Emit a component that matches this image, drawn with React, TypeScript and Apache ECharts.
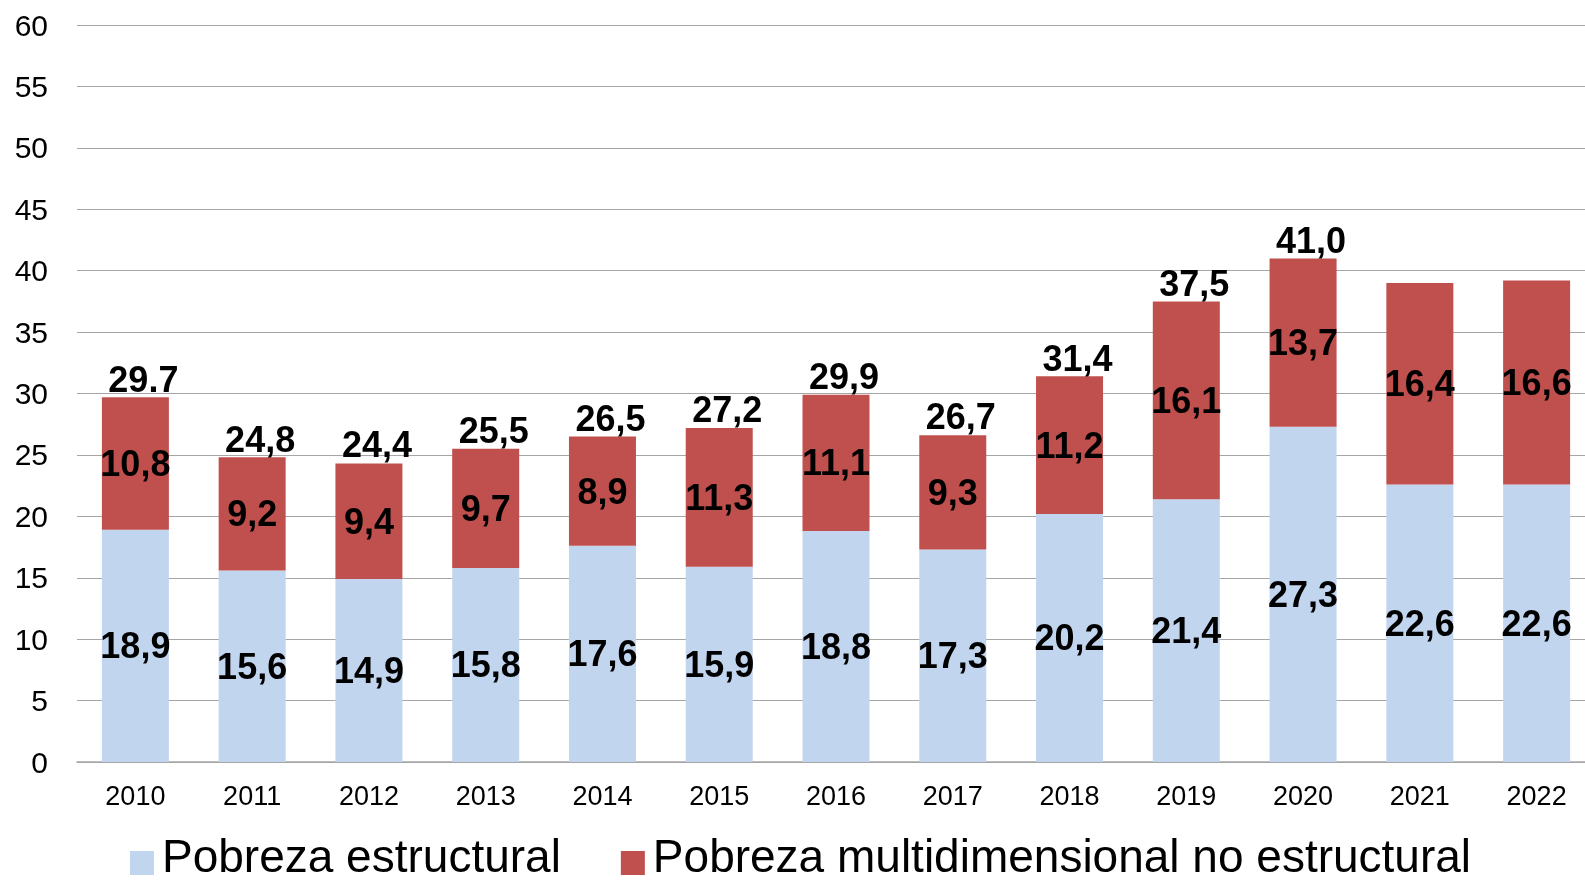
import React, { useEffect, useRef } from "react";
import * as echarts from "echarts";

const years = ["2010", "2011", "2012", "2013", "2014", "2015", "2016", "2017", "2018", "2019", "2020", "2021", "2022"];
const estructural = [18.9, 15.6, 14.9, 15.8, 17.6, 15.9, 18.8, 17.3, 20.2, 21.4, 27.3, 22.6, 22.6];
const noEstructural = [10.8, 9.2, 9.4, 9.7, 8.9, 11.3, 11.1, 9.3, 11.2, 16.1, 13.7, 16.4, 16.6];
const totals = [29.7, 24.8, 24.4, 25.5, 26.5, 27.2, 29.9, 26.7, 31.4, 37.5, 41.0, null, null];
const totalLabels = ["29.7", "24,8", "24,4", "25,5", "26,5", "27,2", "29,9", "26,7", "31,4", "37,5", "41,0", "", ""];
const yTicks = { min: 0, max: 60, interval: 5 };
const seriesNames = ["Pobreza estructural", "Pobreza multidimensional no estructural"];

const FONT = "'Liberation Sans', Arial, sans-serif";
// square legend marker sitting in the lower part of a taller box
const LEGEND_ICON = "path://M0,0M0,14h24v24h-24z";

export default function App() {
  const ref = useRef<HTMLDivElement>(null);
  useEffect(() => {
    if (!ref.current) return;
    const chart = echarts.init(ref.current, null, { renderer: "svg" });
    const fmt = (v: number) => v.toFixed(1).replace(".", ",");
    const inLabel = {
      show: true,
      position: "inside",
      fontFamily: FONT,
      fontSize: 36,
      fontWeight: "bold",
      color: "#000",
      formatter: (p: any) => fmt(p.value),
    };
    chart.setOption({
      animation: false,
      textStyle: { fontFamily: FONT },
      grid: { left: 77, right: 0, top: 25, bottom: 119, containLabel: false },
      legend: {
        data: seriesNames,
        left: 125,
        top: 828,
        icon: LEGEND_ICON,
        itemWidth: 24,
        itemHeight: 38,
        itemGap: 60,
        textStyle: { fontFamily: FONT, fontSize: 46, lineHeight: 46, color: "#000", padding: [0, 0, 0, 3] },
      },
      xAxis: {
        type: "category",
        data: years,
        axisLine: { lineStyle: { color: "#a6a6a6", width: 1.5 } },
        axisTick: { show: false },
        axisLabel: { fontFamily: FONT, fontSize: 27, color: "#000", margin: 20 },
      },
      yAxis: {
        type: "value",
        min: yTicks.min,
        max: yTicks.max,
        interval: yTicks.interval,
        axisLine: { show: false },
        axisTick: { show: false },
        splitLine: { lineStyle: { color: "#a6a6a6", width: 1.2 } },
        axisLabel: { fontFamily: FONT, fontSize: 30, color: "#000", margin: 29 },
      },
      series: [
        {
          name: seriesNames[0],
          type: "bar",
          stack: "total",
          barWidth: 67,
          data: estructural,
          itemStyle: { color: "#C2D5EF" },
          label: inLabel,
        },
        {
          name: seriesNames[1],
          type: "bar",
          stack: "total",
          barWidth: 67,
          data: noEstructural,
          itemStyle: { color: "#C0504D" },
          label: inLabel,
        },
        {
          name: "Total",
          type: "scatter",
          data: totals,
          symbolSize: 0,
          silent: true,
          z: 5,
          itemStyle: { opacity: 1 },
          label: {
            show: true,
            position: "top",
            distance: 0,
            offset: [8, 0],
            fontFamily: FONT,
            fontSize: 36,
            fontWeight: "bold",
            color: "#000",
            opacity: 1,
            formatter: (p: any) => totalLabels[p.dataIndex],
          },
        },
      ],
    });
    return () => chart.dispose();
  }, []);
  return (
    <div style={{ position: "fixed", left: 0, top: 0, width: 1585, height: 881, overflow: "hidden" }}>
      <div ref={ref} style={{ width: 1595, height: 881 }} />
    </div>
  );
}
